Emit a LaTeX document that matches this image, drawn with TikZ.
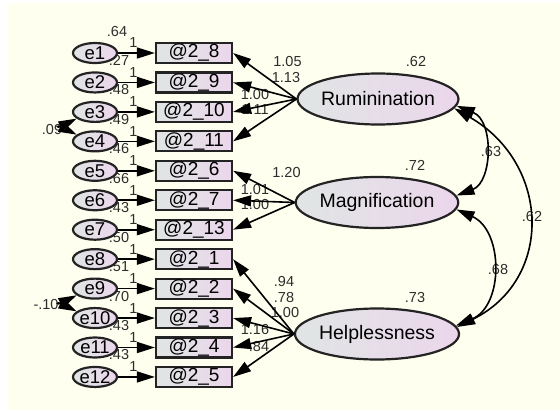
\documentclass[tikz,border=0pt]{standalone}
\usepackage{fontspec}
\setmainfont{Liberation Sans}
\usetikzlibrary{arrows.meta,shapes.geometric}

\definecolor{paper}{RGB}{255,255,240}
\definecolor{fillL}{RGB}{224,229,228}
\definecolor{fillR}{RGB}{236,214,236}
\definecolor{edge}{RGB}{35,35,35}
\definecolor{numtxt}{RGB}{45,45,45}

\tikzset{
  obs/.style={draw=edge, line width=2.2pt, left color=fillL, right color=fillR,
    minimum width=76pt, minimum height=20pt, inner sep=0pt,
    font=\fontsize{19}{19}\selectfont},
  err/.style={ellipse, draw=edge, line width=2.2pt, left color=fillL, right color=fillR,
    minimum width=44pt, minimum height=20pt, inner sep=0pt,
    font=\fontsize{18.5}{18.5}\selectfont},
  lat/.style={ellipse, draw=edge, line width=2.2pt, left color=fillL, right color=fillR,
    minimum width=141pt, minimum height=51pt, inner sep=0pt,
    font=\fontsize{19.5}{19.5}\selectfont},
  num/.style={inner sep=0pt, text=numtxt, font=\fontsize{14.5}{14.5}\selectfont},
  link/.style={-{Triangle[length=18pt,width=11pt]}, line width=1.6pt},
  cov/.style={{Triangle[length=18pt,width=11pt]}-{Triangle[length=18pt,width=11pt]}, line width=1.6pt},
}

\begin{document}
\begin{tikzpicture}[x=1pt,y=-1pt]
  % canvas
  \useasboundingbox (0,0) rectangle (560,410);
  \fill[white] (0,0) rectangle (560,410);
  \fill[paper] (8,3) rectangle (560,410);

  % observed items, their error terms and labels
  \foreach \i/\lab/\rsq in {1/8/.27, 2/9/.48, 3/10/.49, 4/11/.46, 5/6/.66, 6/7/.43,
                            7/13/.50, 8/1/.51, 9/2/.70, 10/3/.43, 11/4/.43, 12/5/{}} {
    \pgfmathsetmacro{\yy}{53+29.45*(\i-1)}
    \node[num] (one\i) at (133.5,\yy-10) {1};
    \node[num] (r\i) at (119,\yy+7.5) {\rsq};
    \node[obs] (b\i) at (194,\yy) {@2\_\lab};
    \node[err] (e\i) at (95,\yy) {e\i};
  }
  \node[num] (ve1) at (117,32) {.64};

  % latent factors
  \node[lat] (rum)  at (378,99)    {Ruminination};
  \node[lat] (mag)  at (377,202.5) {Magnification};
  \node[lat] (help) at (377,334)   {Helplessness};

  % factor variances
  \node[num] (vr) at (416,62)  {.62};
  \node[num] (vm) at (415,165) {.72};
  \node[num] (vh) at (415,298) {.73};

  % loading labels
  \node[num] (l1)  at (287.5,62) {1.05};
  \node[num] (l2)  at (286,78)   {1.13};
  \node[num] (l3)  at (255,95)   {1.00};
  \node[num] (l4)  at (255,110)  {1.11};
  \node[num] (l5)  at (286.5,173) {1.20};
  \node[num] (l6)  at (255,190)  {1.01};
  \node[num] (l7)  at (255,205)  {1.00};
  \node[num] (l8)  at (284,282)  {.94};
  \node[num] (l9)  at (284,298)  {.78};
  \node[num] (l10) at (285,313)  {1.00};
  \node[num] (l11) at (255,330)  {1.16};
  \node[num] (l12) at (259,347)  {.84};

  % covariance labels
  \node[num] (c1) at (52,130)  {.09};
  \node[num] (c2) at (46,305)  {-.10};
  \node[num] (c3) at (491,152) {.63};
  \node[num] (c4) at (532,217) {.62};
  \node[num] (c5) at (498,270) {.68};

  % error paths
  \foreach \i in {1,...,12} {
    \draw[link] (e\i.east) -- (b\i.west);
  }

  % factor loadings
  \foreach \i in {1,...,4}  { \draw[link] (rum.west)  -- (b\i.east); }
  \foreach \i in {5,...,7}  { \draw[link] (mag.west)  -- (b\i.east); }
  \foreach \i in {8,...,12} { \draw[link] (help.west) -- (b\i.east); }

  % error covariances
  \draw[cov] (e3.200) .. controls +(-20,10) and +(-20,-10) .. (e4.160);
  \draw[cov] (e9.200) .. controls +(-20,10) and +(-20,-10) .. (e10.160);

  % factor covariances
  \draw[cov] (rum.-5) .. controls +(37.5,15) and +(36,-13.5) .. (mag.5);
  \draw[cov] (rum.-7) .. controls +(96,55) and +(97,-48) .. (help.5);
  \draw[cov] (mag.-5) .. controls +(47,21) and +(48,-20) .. (help.6);
\end{tikzpicture}
\end{document}
